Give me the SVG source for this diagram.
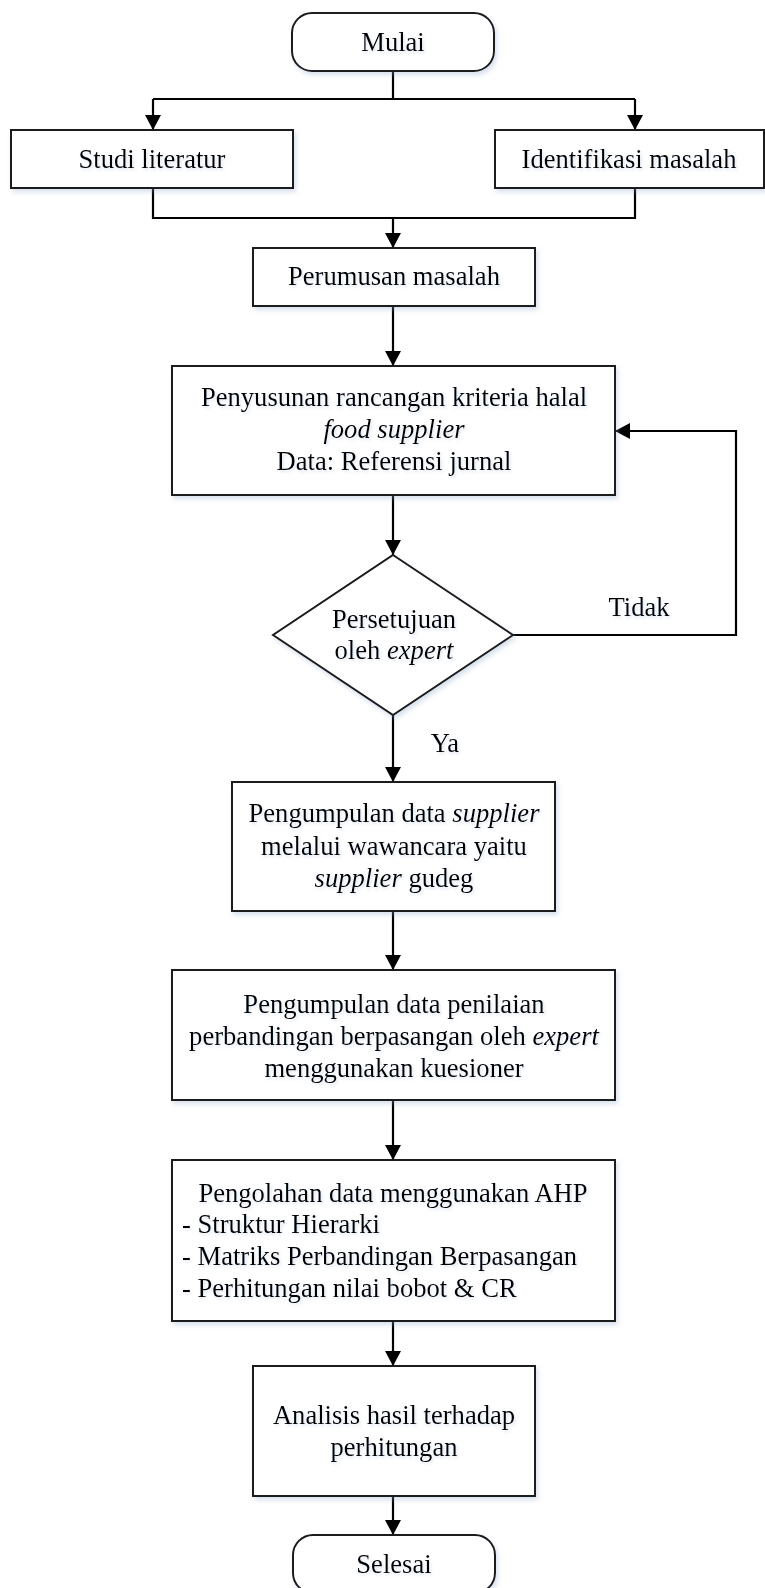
<svg xmlns="http://www.w3.org/2000/svg" width="765" height="1588" viewBox="0 0 765 1588">
<defs>
<style>
.shape{fill:#fff;stroke:#1a1a1a;stroke-width:2;filter:url(#sh)}
.t{font-family:"Liberation Serif","Times New Roman",serif;font-size:26.6px;fill:#000;filter:url(#tsh)}
.c{text-anchor:middle}
.i{font-style:italic}
.conn{fill:none;stroke:#000;stroke-width:2.2}
</style>
<filter id="sh" x="-10%" y="-10%" width="130%" height="130%">
<feDropShadow dx="2" dy="3" stdDeviation="2.5" flood-color="#8ea6c8" flood-opacity="0.35"/>
</filter>
<filter id="tsh" x="-5%" y="-20%" width="115%" height="150%">
<feDropShadow dx="1.5" dy="2" stdDeviation="1.5" flood-color="#8ea6c8" flood-opacity="0.3"/>
</filter>
<marker id="arr" markerUnits="userSpaceOnUse" markerWidth="18" markerHeight="18" refX="15" refY="8" orient="auto">
<path d="M0,0 L15,8 L0,16 z" fill="#000"/>
</marker>
</defs>

<g id="connectors">
<path class="conn" d="M393,71 V99"/>
<path class="conn" d="M153,99 H635"/>
<path class="conn" d="M153,99 V130" marker-end="url(#arr)"/>
<path class="conn" d="M635,99 V130" marker-end="url(#arr)"/>
<path class="conn" d="M153,189 V218 H635 V189"/>
<path class="conn" d="M393,218 V248" marker-end="url(#arr)"/>
<path class="conn" d="M393,306 V366" marker-end="url(#arr)"/>
<path class="conn" d="M393,495 V555" marker-end="url(#arr)"/>
<path class="conn" d="M513,635 H736 V431 H615" marker-end="url(#arr)"/>
<path class="conn" d="M393,715 V782" marker-end="url(#arr)"/>
<path class="conn" d="M393,911 V970" marker-end="url(#arr)"/>
<path class="conn" d="M393,1100 V1160" marker-end="url(#arr)"/>
<path class="conn" d="M393,1321 V1366" marker-end="url(#arr)"/>
<path class="conn" d="M393,1496 V1535" marker-end="url(#arr)"/>
<text class="t c" x="639" y="616">Tidak</text>
<text class="t c" x="445" y="752">Ya</text>
</g>

<g id="mulai">
<rect class="shape" x="292" y="13" width="202" height="58" rx="20"/>
<text class="t c" x="393" y="51">Mulai</text>
</g>

<g id="studi">
<rect class="shape" x="11" y="130" width="282" height="58"/>
<text class="t c" x="152" y="168">Studi literatur</text>
</g>

<g id="identifikasi">
<rect class="shape" x="495" y="130" width="269" height="58"/>
<text class="t c" x="629" y="168">Identifikasi masalah</text>
</g>

<g id="perumusan">
<rect class="shape" x="253" y="248" width="282" height="58"/>
<text class="t c" x="394" y="285">Perumusan masalah</text>
</g>

<g id="penyusunan">
<rect class="shape" x="172" y="366" width="443" height="129"/>
<text class="t c" x="394" y="406">Penyusunan rancangan kriteria halal</text>
<text class="t c i" x="394" y="438">food supplier</text>
<text class="t c" x="394" y="470">Data: Referensi jurnal</text>
</g>

<g id="persetujuan">
<polygon class="shape" points="393,555 513,635 393,715 273,635"/>
<text class="t c" x="394" y="628">Persetujuan</text>
<text class="t c" x="394" y="659">oleh <tspan class="i">expert</tspan></text>
</g>

<g id="pengumpulan-supplier">
<rect class="shape" x="232" y="782" width="323" height="129"/>
<text class="t c" x="394" y="822">Pengumpulan data <tspan class="i">supplier</tspan></text>
<text class="t c" x="394" y="855">melalui wawancara yaitu</text>
<text class="t c" x="394" y="887"><tspan class="i">supplier</tspan> gudeg</text>
</g>

<g id="pengumpulan-penilaian">
<rect class="shape" x="172" y="970" width="443" height="130"/>
<text class="t c" x="394" y="1013">Pengumpulan data penilaian</text>
<text class="t c" x="394" y="1045">perbandingan berpasangan oleh <tspan class="i">expert</tspan></text>
<text class="t c" x="394" y="1077">menggunakan kuesioner</text>
</g>

<g id="pengolahan">
<rect class="shape" x="172" y="1160" width="443" height="161"/>
<text class="t c" x="393" y="1202">Pengolahan data menggunakan AHP</text>
<text class="t" x="182" y="1233">- Struktur Hierarki</text>
<text class="t" x="182" y="1265">- Matriks Perbandingan Berpasangan</text>
<text class="t" x="182" y="1297">- Perhitungan nilai bobot &amp; CR</text>
</g>

<g id="analisis">
<rect class="shape" x="253" y="1366" width="282" height="130"/>
<text class="t c" x="394" y="1424">Analisis hasil terhadap</text>
<text class="t c" x="394" y="1456">perhitungan</text>
</g>

<g id="selesai">
<rect class="shape" x="293" y="1535" width="202" height="58" rx="20"/>
<text class="t c" x="394" y="1573">Selesai</text>
</g>
</svg>
